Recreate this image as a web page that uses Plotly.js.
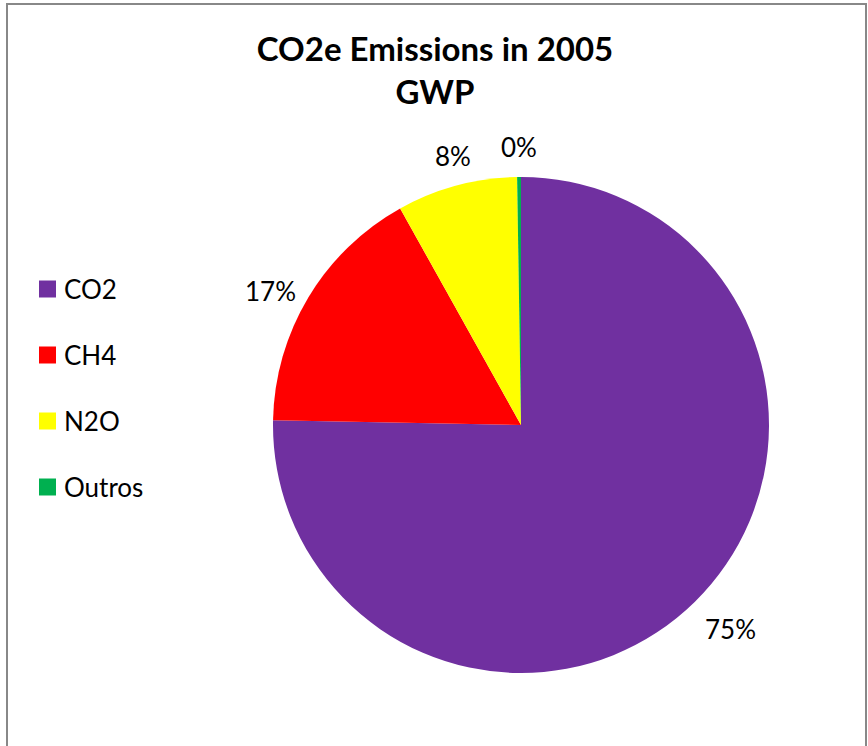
<!DOCTYPE html>
<html>
<head>
<meta charset="utf-8">
<script src="https://cdn.plot.ly/plotly-3.0.1.min.js"></script>
<style>
  html, body { margin: 0; padding: 0; background: #fff; }
  #chart { width: 868px; height: 746px; }
</style>
</head>
<body>
<div id="chart"></div>
<script>
// ---- data ----
const categories = ['CO2', 'CH4', 'N2O', 'Outros'];
const values = [75.3, 16.6, 7.85, 0.25];
const colors = ['#7030A0', '#FF0000', '#FFFF00', '#00B050'];
const titleLine1 = 'CO2e Emissions in 2005';
const titleLine2 = 'GWP';

// ---- layout helpers (pixel -> paper) ----
const W = 868, H = 746;
const px = x => x / W;
const py = y => 1 - y / H;

const cx = 521, cy = 425, R = 248;

const total = values.reduce((a, b) => a + b, 0);

// data labels computed from the values (mid-angle of each slice)
const annotations = [];
let cum = 0;
values.forEach((v, i) => {
  const mid = (cum + v / 2) / total * 2 * Math.PI;
  cum += v;
  const s = Math.sin(mid), c = Math.cos(mid);
  const rr = R * 1.05;
  const lx = cx + s * rr, ly = cy - c * rr;
  annotations.push({
    xref: 'paper', yref: 'paper',
    x: px(lx), y: py(ly),
    xanchor: s > 0.3 ? 'left' : (s < -0.3 ? 'right' : 'center'),
    yanchor: Math.abs(c) < 0.6 ? 'middle' : (c > 0 ? 'bottom' : 'top'),
    text: Math.round(v / total * 100) + '%',
    showarrow: false,
    font: { family: 'Lato, sans-serif', size: 26, color: '#000' }
  });
});

// manual legend (Excel-style, widely spaced)
const shapes = [];
const legTop = 289, legGap = 66, sq = 17;
categories.forEach((name, i) => {
  const yc = legTop + i * legGap;
  shapes.push({
    type: 'rect', xref: 'paper', yref: 'paper',
    x0: px(39), x1: px(39 + sq), y0: py(yc - sq / 2), y1: py(yc + sq / 2),
    fillcolor: colors[i], line: { width: 0 }
  });
  annotations.push({
    xref: 'paper', yref: 'paper',
    x: px(62), y: py(yc), xanchor: 'left', yanchor: 'middle',
    text: name, showarrow: false,
    font: { family: 'Lato, sans-serif', size: 26, color: '#000' }
  });
});

// chart border
shapes.push({
  type: 'rect', xref: 'paper', yref: 'paper',
  x0: px(7), x1: px(866), y0: py(800), y1: py(4),
  line: { color: '#888888', width: 2 }, fillcolor: 'rgba(0,0,0,0)'
});

const trace = {
  type: 'pie',
  labels: categories,
  values: values,
  marker: { colors: colors, line: { width: 0 } },
  sort: false,
  direction: 'clockwise',
  rotation: 0,
  textinfo: 'none',
  hoverinfo: 'label+percent',
  showlegend: false,
  domain: { x: [px(cx - R), px(cx + R)], y: [py(cy + R), py(cy - R)] }
};

const layout = {
  width: W, height: H,
  margin: { l: 0, r: 0, t: 0, b: 0 },
  paper_bgcolor: '#fff',
  title: {
    text: '<b>' + titleLine1 + '<br>' + titleLine2 + '</b>',
    font: { family: 'Lato, sans-serif', size: 33, color: '#000' },
    x: 435 / W, xanchor: 'center',
    y: py(61), yanchor: 'middle', yref: 'container'
  },
  showlegend: false,
  annotations: annotations,
  shapes: shapes
};

Plotly.newPlot('chart', [trace], layout, { displayModeBar: false, staticPlot: true });
</script>
</body>
</html>
